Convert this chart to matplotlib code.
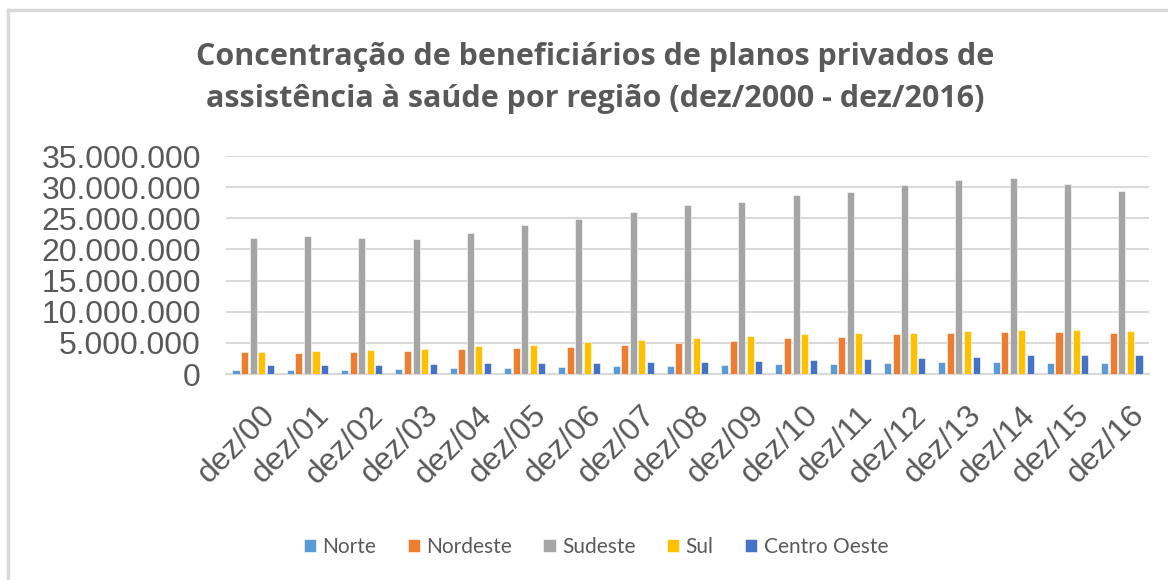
import numpy as np
import matplotlib
matplotlib.use("Agg")
from matplotlib import pyplot as plt
from matplotlib import transforms
from matplotlib.ticker import FuncFormatter

# dados (milhoes de beneficiarios)
anos = ["dez/00", "dez/01", "dez/02", "dez/03", "dez/04", "dez/05", "dez/06", "dez/07", "dez/08",
        "dez/09", "dez/10", "dez/11", "dez/12", "dez/13", "dez/14", "dez/15", "dez/16"]
norte = [0.64, 0.62, 0.70, 0.80, 0.93, 1.00, 1.12, 1.28, 1.34, 1.44, 1.55, 1.65, 1.81, 1.93, 1.93, 1.81, 1.77]
nordeste = [3.50, 3.45, 3.60, 3.74, 4.00, 4.17, 4.33, 4.70, 5.02, 5.30, 5.73, 5.99, 6.37, 6.58, 6.79, 6.74, 6.63]
sudeste = [21.8, 22.15, 21.8, 21.67, 22.7, 23.9, 24.9, 26.0, 27.2, 27.55, 28.8, 29.3, 30.3, 31.2, 31.4, 30.45, 29.4]
sul = [3.50, 3.70, 3.85, 4.06, 4.44, 4.65, 5.08, 5.40, 5.78, 6.10, 6.47, 6.63, 6.63, 6.90, 7.11, 7.06, 6.95]
centro_oeste = [1.40, 1.45, 1.50, 1.60, 1.70, 1.77, 1.77, 1.87, 1.98, 2.09, 2.25, 2.41, 2.62, 2.78, 3.05, 3.10, 3.05]

regioes = ["Norte", "Nordeste", "Sudeste", "Sul", "Centro Oeste"]
series = [norte, nordeste, sudeste, sul, centro_oeste]
cores = ["#5B9BD5", "#ED7D31", "#A5A5A5", "#FFC000", "#4472C4"]

fig = plt.figure(figsize=(11.68, 5.8), dpi=100)
ax = fig.add_axes([226 / 1168, 1 - 374 / 580, (1149 - 226) / 1168, 218 / 580])

# moldura do grafico (so topo e esquerda aparecem)
fig.add_artist(plt.Line2D([8 / 1168, 1], [1 - 10 / 580, 1 - 10 / 580], color="#D9D9D9", lw=2.5))
fig.add_artist(plt.Line2D([8 / 1168, 8 / 1168], [0, 1 - 10 / 580], color="#D9D9D9", lw=2.5))

x = np.arange(len(anos))
largura = 0.13
passo = 0.158
for i, (nome, vals, cor) in enumerate(zip(regioes, series, cores)):
    ax.bar(x + (i - 2) * passo, np.array(vals) * 1e6, width=largura, color=cor,
           label=nome, zorder=3, edgecolor="white", linewidth=0.4)

ax.set_xlim(-0.5, len(anos) - 0.5)
ax.set_ylim(0, 35e6)
ax.set_yticks(np.arange(0, 35e6 + 1, 5e6))
ax.yaxis.set_major_formatter(FuncFormatter(lambda v, p: f"{int(v):,}".replace(",", ".")))
ax.grid(axis="y", color="#D9D9D9", lw=1.5, zorder=0)
for s in ["top", "right", "left"]:
    ax.spines[s].set_visible(False)
ax.spines["bottom"].set_color("#D9D9D9")
ax.spines["bottom"].set_linewidth(1.5)
ax.tick_params(axis="both", length=0, colors="#595959")
ax.tick_params(axis="y", pad=18)
ax.tick_params(axis="x", pad=19)
ax.set_xticks(x)
ax.set_xticklabels(anos, rotation=45, ha="right", rotation_mode="anchor",
                   fontsize=23, family="Liberation Sans", color="#595959")
# pequeno ajuste horizontal dos rotulos
desloc = transforms.ScaledTranslation(0.07, 0.0, fig.dpi_scale_trans)
for t in ax.get_xticklabels():
    t.set_transform(t.get_transform() + desloc)
for t in ax.get_yticklabels():
    t.set_fontsize(23)
    t.set_family("Liberation Sans")

fig.text(595 / 1168, 1 - 78 / 580,
         "Concentração de beneficiários de planos privados de\nassistência à saúde por região (dez/2000 - dez/2016)",
         ha="center", va="center", fontsize=22, fontweight="bold", color="#595959",
         family="Open Sans", linespacing=1.55)

fig.legend(loc="center", bbox_to_anchor=(596 / 1168, 1 - 547 / 580), ncol=5, frameon=False,
           handlelength=0.6, handleheight=0.6, handletextpad=0.3, columnspacing=1.5,
           labelcolor="#595959", prop={"family": "Lato", "size": 15})

fig.savefig("out.png", dpi=100)
